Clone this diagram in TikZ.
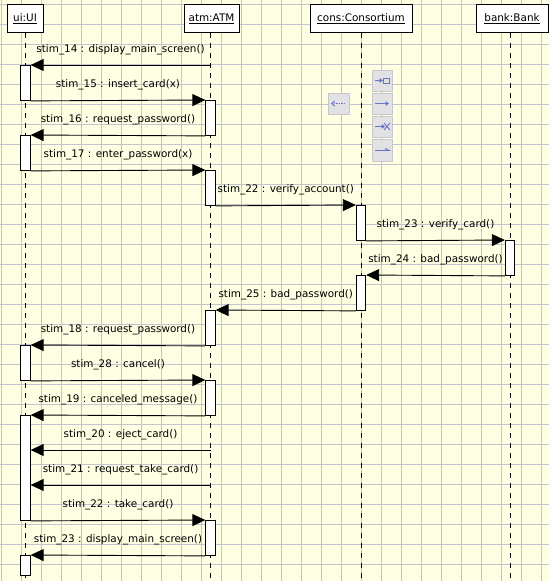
\documentclass[tikz,border=0pt]{standalone}
\usepackage{fontspec}
\setmainfont{DejaVu Sans}
\usetikzlibrary{arrows.meta}
\definecolor{bg}{RGB}{255,255,228}
\definecolor{gridc}{RGB}{196,196,206}
\definecolor{iconbg}{RGB}{226,226,228}
\definecolor{iconedge}{RGB}{200,200,204}
\definecolor{iconfg}{RGB}{104,116,196}
\begin{document}
\begin{tikzpicture}[x=1pt,y=-1pt,
  font=\fontsize{10.4}{12}\selectfont,
  head/.style={draw,fill=white,line width=0.9pt,minimum height=28pt,inner sep=0pt},
  act/.style={draw,fill=white,line width=0.9pt,minimum width=9.4pt,inner sep=0pt,anchor=north},
  life/.style={dash pattern=on 5pt off 5pt,line width=0.9pt},
  msg/.style={line width=0.9pt,-{Triangle[length=13pt,width=12pt]}},
  lbl/.style={midway,anchor=base,yshift=13pt,inner sep=0pt},
  iconbox/.style={fill=iconbg,draw=iconedge,line width=0.8pt},
  iconarr/.style={draw=iconfg,line width=0.9pt}
]
% background and grid
\fill[bg] (0,0) rectangle (549,581);
\useasboundingbox (0,0) rectangle (549,581);
\foreach \x in {1,21,...,541} \draw[gridc,line width=0.8pt] (\x,0) -- (\x,581);
\foreach \y in {4,24,...,564} \draw[gridc,line width=0.8pt] (0,\y) -- (549,\y);

% heads
\node[head,minimum width=36pt] (ui) at (25,18.6) {\underline{ui:UI}};
\node[head,minimum width=55pt] (atm) at (211.5,18.6) {\underline{atm:ATM}};
\node[head,minimum width=102pt] (cons) at (361,18.6) {\underline{cons:Consortium}};
\node[head,minimum width=72pt] (bank) at (512,18.6) {\underline{bank:Bank}};

% lifeline ends
\coordinate (uiend) at (25.5,581);
\coordinate (atmend) at (210.5,581);
\coordinate (consend) at (361,581);
\coordinate (bankend) at (510,581);
\draw[life] (uiend |- ui.south) -- (uiend);
\draw[life] (atmend |- atm.south) -- (atmend);
\draw[life] (consend |- cons.south) -- (consend);
\draw[life] (bankend |- bank.south) -- (bankend);

% toolbar icons
\draw[iconbox] (328,93) rectangle (349,114);
\draw[iconarr,dash pattern=on 1.5pt off 1pt,-{Straight Barb[length=3pt,width=5pt]}] (345,103.5) -- (331,103.5);
\draw[iconbox] (372,70) rectangle (392,91);
\draw[iconarr,-{Triangle[length=3.5pt,width=4.5pt]}] (375,80.5) -- (383,80.5);
\draw[draw=iconfg,line width=0.8pt] (383.5,78) rectangle (389.5,83);
\draw[iconbox] (372,93) rectangle (392,114);
\draw[iconarr,-{Triangle[length=3.5pt,width=4.5pt]}] (375,103.5) -- (389,103.5);
\draw[iconbox] (372,116) rectangle (392,137);
\draw[iconarr,-{Triangle[length=3.5pt,width=4.5pt]}] (375,126.5) -- (385,126.5);
\draw[iconarr] (384,123) -- (390,130) (384,130) -- (390,123);
\draw[iconbox] (372,139) rectangle (392,161);
\draw[iconarr] (375,150.5) -- (389,150.5) -- (385,148.5);

% activations
\node[act,minimum height=35pt] (ui1) at (25.5,65) {};
\node[act,minimum height=35pt] (atm1) at (210.5,100) {};
\node[act,minimum height=35pt] (ui2) at (25.5,135) {};
\node[act,minimum height=35pt] (atm2) at (210.5,170) {};
\node[act,minimum height=35pt] (cons1) at (361,205) {};
\node[act,minimum height=35pt] (bank1) at (510,240) {};
\node[act,minimum height=35pt] (cons2) at (361,275) {};
\node[act,minimum height=35pt] (atm3) at (210.5,310) {};
\node[act,minimum height=35pt] (ui3) at (25.5,345) {};
\node[act,minimum height=35pt] (atm4) at (210.5,380) {};
\node[act,minimum height=105pt] (ui4) at (25.5,415) {};
\node[act,minimum height=35pt] (atm5) at (210.5,520) {};
\node[act,minimum height=20pt] (ui5) at (25.5,555) {};

\coordinate (a14) at (210.5,65);
\coordinate (a20) at (210.5,450);
\coordinate (a21) at (210.5,485);

% messages
\draw[msg] (a14) -- node[lbl] {stim\_14 : display\_main\_screen()} (ui1.north east);
\draw[msg] (ui1.south east) -- node[lbl] {stim\_15 : insert\_card(x)} (atm1.north west);
\draw[msg] (atm1.south west) -- node[lbl] {stim\_16 : request\_password()} (ui2.north east);
\draw[msg] (ui2.south east) -- node[lbl] {stim\_17 : enter\_password(x)} (atm2.north west);
\draw[msg] (atm2.south east) -- node[lbl] {stim\_22 : verify\_account()} (cons1.north west);
\draw[msg] (cons1.south east) -- node[lbl] {stim\_23 : verify\_card()} (bank1.north west);
\draw[msg] (bank1.south west) -- node[lbl] {stim\_24 : bad\_password()} (cons2.north east);
\draw[msg] (cons2.south west) -- node[lbl] {stim\_25 : bad\_password()} (atm3.north east);
\draw[msg] (atm3.south west) -- node[lbl] {stim\_18 : request\_password()} (ui3.north east);
\draw[msg] (ui3.south east) -- node[lbl] {stim\_28 : cancel()} (atm4.north west);
\draw[msg] (atm4.south west) -- node[lbl] {stim\_19 : canceled\_message()} (ui4.north east);
\draw[msg] (a20) -- node[lbl] {stim\_20 : eject\_card()} (ui4.east |- a20);
\draw[msg] (a21) -- node[lbl] {stim\_21 : request\_take\_card()} (ui4.east |- a21);
\draw[msg] (ui4.south east) -- node[lbl] {stim\_22 : take\_card()} (atm5.north west);
\draw[msg] (atm5.south west) -- node[lbl] {stim\_23 : display\_main\_screen()} (ui5.north east);
\end{tikzpicture}
\end{document}
